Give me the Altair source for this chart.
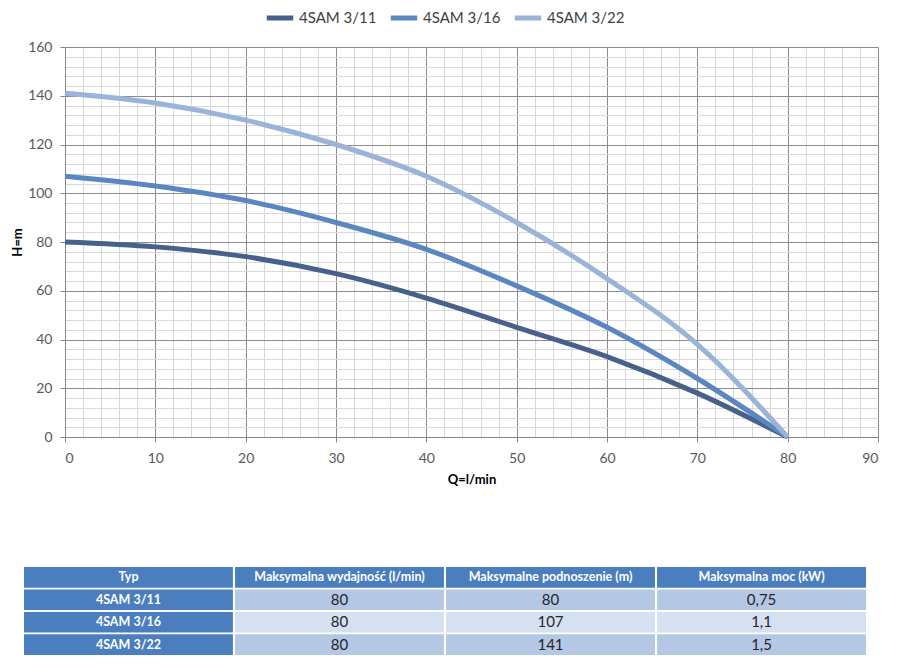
import altair as alt
import pandas as pd

# ---- data ----
q = [0, 10, 20, 30, 40, 50, 60, 70, 80]
h_311 = [80, 78, 74, 67, 57, 45, 33, 18, 0]
h_316 = [107, 103, 97, 88, 77, 62, 45, 24, 0]
h_322 = [141, 137, 130, 120, 107, 88, 65, 38, 0]
series = ["4SAM 3/11", "4SAM 3/16", "4SAM 3/22"]
colors = ["#47618a", "#5b87c1", "#9ab3d8"]

headers = ["Typ", "Maksymalna wydajność (l/min)", "Maksymalne podnoszenie (m)", "Maksymalna moc (kW)"]
types = ["4SAM 3/11", "4SAM 3/16", "4SAM 3/22"]
max_flow = ["80", "80", "80"]
max_head = ["80", "107", "141"]
max_power = ["0,75", "1,1", "1,5"]

FONT = "Lato"

# ---- curves ----
rows = []
for name, hs in zip(series, [h_311, h_316, h_322]):
    for qq, hh in zip(q, hs):
        rows.append({"series": name, "Q": qq, "H": hh})
curve_df = pd.DataFrame(rows)

x_axis = alt.Axis(
    values=list(range(0, 91, 2)),
    labelExpr="datum.value % 10 === 0 ? datum.label : ''",
    labelOverlap=False,
    gridColor={"condition": {"test": "datum.value % 10 === 0", "value": "#8c8c8c"}, "value": "#d9d9d9"},
    tickOpacity={"condition": {"test": "datum.value % 10 === 0", "value": 1}, "value": 0},
    title="Q=l/min",
    titlePadding=8,
    labelPadding=9,
)
y_axis = alt.Axis(
    values=list(range(0, 161, 4)),
    labelExpr="datum.value % 20 === 0 ? datum.label : ''",
    labelOverlap=False,
    gridColor={"condition": {"test": "datum.value % 20 === 0", "value": "#8c8c8c"}, "value": "#d9d9d9"},
    tickOpacity={"condition": {"test": "datum.value % 20 === 0", "value": 1}, "value": 0},
    title="H=m",
    titlePadding=3,
    labelPadding=8,
)

curves = alt.Chart(curve_df).mark_line(strokeWidth=5, interpolate="monotone").encode(
    x=alt.X("Q:Q", scale=alt.Scale(domain=[0, 90], nice=False), axis=x_axis),
    y=alt.Y("H:Q", scale=alt.Scale(domain=[0, 160], nice=False), axis=y_axis),
    color=alt.Color(
        "series:N",
        scale=alt.Scale(domain=series, range=colors),
        legend=alt.Legend(
            title=None,
            orient="none",
            direction="horizontal",
            legendX=199,
            legendY=-45,
            symbolType="stroke",
            symbolStrokeWidth=5,
            symbolSize=700,
            labelFontSize=15,
            labelFont=FONT,
            labelColor="#404040",
            columnPadding=3,
            labelOffset=3,
        ),
    ),
    order=alt.Order("series:N"),
).properties(width=813, height=390, view=alt.ViewBackground(stroke=None))

# ---- table ----
cells = []
for c, t in enumerate(headers):
    cells.append({"row": 0, "col": c, "text": t, "kind": "head"})
for r in range(len(types)):
    vals = [types[r], max_flow[r], max_head[r], max_power[r]]
    for c, v in enumerate(vals):
        if c == 0:
            kind = "head"
        else:
            kind = "odd" if r % 2 == 0 else "even"
        cells.append({"row": r + 1, "col": c, "text": v, "kind": kind})
cell_df = pd.DataFrame(cells)

# table starts 41px left of the plot area's left edge and ends 12px before its right edge
xs = alt.X("col:O", axis=None, scale=alt.Scale(range=[-41, 801], paddingInner=0.01, paddingOuter=0))
ys = alt.Y("row:O", axis=None, scale=alt.Scale(paddingInner=0.08, paddingOuter=0))

base = alt.Chart(cell_df)
cell_rects = base.mark_rect().encode(
    x=xs, y=ys,
    color=alt.Color("kind:N", scale=alt.Scale(domain=["head", "odd", "even"],
                                              range=["#4a7ebf", "#b4c7e5", "#d5e0f0"]), legend=None),
)
head_text = base.transform_filter("datum.kind === 'head'").mark_text(
    font=FONT, fontSize=12.5, fontWeight="bold", color="#ffffff"
).encode(x=xs, y=ys, text="text:N")
body_text = base.transform_filter("datum.kind !== 'head'").mark_text(
    font=FONT, fontSize=15, color="#262626"
).encode(x=xs, y=ys, text="text:N")

table = alt.layer(cell_rects, head_text, body_text).properties(
    width=813, height=88, view=alt.ViewBackground(stroke=None)
)

chart = alt.vconcat(curves, table, spacing=81).resolve_scale(
    color="independent", x="independent", y="independent"
).properties(
    padding={"left": 3, "top": -6, "right": 0, "bottom": 0}
).configure_axis(
    labelFont=FONT,
    labelFontSize=14,
    labelColor="#595959",
    titleFont=FONT,
    titleFontSize=13,
    titleFontWeight="bold",
    titleColor="#000000",
    domainColor="#868686",
    tickColor="#868686",
    tickSize=5,
).configure_view(stroke=None)

chart.save("out.html", embed_options={"renderer": "svg", "actions": False})
